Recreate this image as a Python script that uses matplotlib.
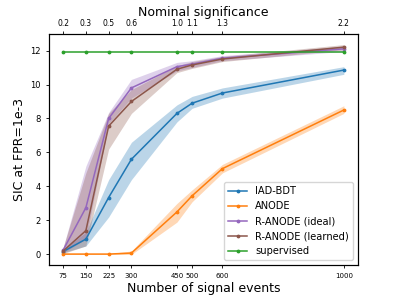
import numpy as np
import matplotlib.pyplot as plt

# data ==========================================================================
n_sig = [75, 150, 225, 300, 450, 500, 600, 1000]
signif = ['0.2', '0.3', '0.5', '0.6', '1.0', '1.1', '1.3', '2.2']

iad = [0.17, 0.9, 3.35, 5.6, 8.3, 8.9, 9.5, 10.85]
iad_lo = [0.1, 0.5, 2.2, 4.4, 7.8, 8.6, 9.2, 10.6]
iad_hi = [0.3, 1.3, 4.4, 6.6, 8.8, 9.3, 9.8, 11.05]

anode = [0.02, 0.02, 0.02, 0.08, 2.5, 3.45, 5.05, 8.5]
anode_lo = [0.0, 0.0, 0.0, 0.0, 1.9, 3.1, 4.8, 8.3]
anode_hi = [0.05, 0.05, 0.05, 0.2, 3.0, 3.8, 5.3, 8.75]

ranode_ideal = [0.25, 2.75, 8.0, 9.8, 11.05, 11.2, 11.55, 12.1]
ranode_ideal_lo = [0.1, 0.9, 7.7, 9.2, 10.8, 11.0, 11.4, 11.95]
ranode_ideal_hi = [0.4, 5.2, 8.35, 10.3, 11.3, 11.4, 11.7, 12.25]

ranode_learned = [0.2, 1.4, 7.55, 9.0, 10.9, 11.15, 11.5, 12.2]
ranode_learned_lo = [0.05, 0.5, 6.2, 8.3, 10.7, 10.95, 11.35, 12.05]
ranode_learned_hi = [0.4, 4.8, 8.3, 9.7, 11.1, 11.35, 11.65, 12.35]

supervised = [11.9, 11.9, 11.9, 11.9, 11.9, 11.9, 11.9, 11.9]

# plot ==========================================================================
fig, ax = plt.subplots(figsize=(3.99, 2.99), dpi=100)

series = [
    (iad, iad_lo, iad_hi, 'IAD-BDT', 'C0'),
    (anode, anode_lo, anode_hi, 'ANODE', 'C1'),
    (ranode_ideal, ranode_ideal_lo, ranode_ideal_hi, 'R-ANODE (ideal)', 'C4'),
    (ranode_learned, ranode_learned_lo, ranode_learned_hi, 'R-ANODE (learned)', 'C5'),
]
for y, lo, hi, label, c in series:
    ax.plot(n_sig, y, '.-', color=c, label=label, lw=1.1, ms=3.5)
    ax.fill_between(n_sig, lo, hi, color=c, alpha=0.3, lw=0)
ax.plot(n_sig, supervised, '.-', color='C2', label='supervised', lw=1.1, ms=3.5)

ax.set_xticks(n_sig)
ax.set_xticklabels([str(n) for n in n_sig], fontsize=5)
ax.tick_params(axis='both', length=2.5, width=0.6)
ax.tick_params(axis='y', labelsize=6)
ax.set_xlabel('Number of signal events', fontsize=9, labelpad=2)
ax.set_ylabel('SIC at FPR=1e-3', fontsize=9, labelpad=3)
ax.legend(loc='lower right', fontsize=7.1)

ax2 = ax.twiny()
ax2.set_xlim(ax.get_xlim())
ax2.set_xticks(n_sig)
ax2.set_xticklabels(signif, fontsize=5.5)
ax2.tick_params(axis='x', length=2.5, width=0.6, pad=2)
ax2.set_xlabel('Nominal significance', fontsize=9, labelpad=2)

fig.subplots_adjust(left=0.123, right=0.897, top=0.886, bottom=0.114)
fig.savefig('out.png')
